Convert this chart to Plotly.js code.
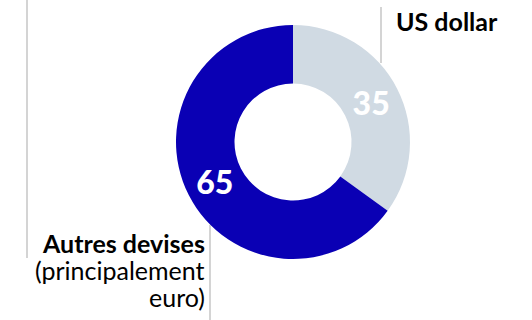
<!DOCTYPE html>
<html><head><meta charset="utf-8">
<script src="https://cdn.plot.ly/plotly-3.0.1.min.js"></script>
<style>html,body{margin:0;padding:0;background:#fff}</style>
</head><body><div id="chart" style="width:532px;height:320px"></div>
<script>
const categories = ["US dollar", "Autres devises"];
const values = [35, 65];
const colors = ["#d0dae3", "#0a00b4"];

const W = 532, H = 320;
const cx = 293, cy = 142, R = 117;
const px = x => x / W, py = y => 1 - y / H;

const data = [{
  type: "pie",
  labels: categories,
  values: values,
  text: values.map(String),
  textinfo: "text",
  hole: 0.5,
  sort: false,
  direction: "clockwise",
  rotation: 0,
  marker: {colors: colors, line: {width: 0}},
  textposition: "inside",
  insidetextorientation: "horizontal",
  textfont: {family: "Lato, 'Open Sans', sans-serif", size: 32, color: "#ffffff", weight: 900},
  domain: {x: [px(cx - R), px(cx + R)], y: [py(cy + R), py(cy - R)]},
  hoverinfo: "none"
}];

const lineStyle = {color: "#c6c6c6", width: 1.5};
const FS = 25;
const layout = {
  width: W, height: H,
  margin: {l: 0, r: 0, t: 0, b: 0},
  paper_bgcolor: "#ffffff",
  showlegend: false,
  font: {family: "Lato, 'Open Sans', sans-serif", color: "#000"},
  shapes: [
    {type: "line", xref: "paper", yref: "paper", x0: px(27), x1: px(27), y0: py(0), y1: py(258), line: lineStyle},
    {type: "line", xref: "paper", yref: "paper", x0: px(381), x1: px(381), y0: py(7), y1: py(63), line: lineStyle},
    {type: "line", xref: "paper", yref: "paper", x0: px(210), x1: px(210), y0: py(225), y1: py(320), line: lineStyle}
  ],
  annotations: [
    {xref: "paper", yref: "paper", x: px(394), y: py(21), xanchor: "left", yanchor: "middle",
     text: "<b>US dollar</b>", showarrow: false, font: {size: FS, color: "#000"}},
    {xref: "paper", yref: "paper", x: px(207), y: py(243), xanchor: "right", yanchor: "middle",
     text: "<b>Autres devises</b>", showarrow: false, font: {size: FS, color: "#000"}},
    {xref: "paper", yref: "paper", x: px(207), y: py(270), xanchor: "right", yanchor: "middle",
     text: "(principalement", showarrow: false, font: {size: FS, color: "#000"}},
    {xref: "paper", yref: "paper", x: px(207), y: py(297), xanchor: "right", yanchor: "middle",
     text: "euro)", showarrow: false, font: {size: FS, color: "#000"}}
  ]
};

Plotly.newPlot("chart", data, layout, {staticPlot: true, displayModeBar: false});
</script>
</body></html>
